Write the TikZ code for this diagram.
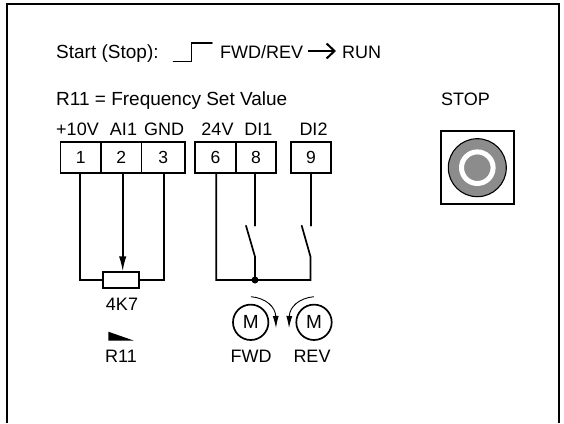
\documentclass[tikz,border=0pt]{standalone}
\usepackage{fontspec}
\setmainfont{Liberation Sans}
\usetikzlibrary{arrows.meta}
\definecolor{btn}{HTML}{8C8C8C}
\tikzset{
  wire/.style={line width=1.7pt,line cap=round,line join=miter},
  cell/.style={draw,line width=1.7pt,minimum height=31pt,inner sep=0pt,font=\fontsize{17.5}{20}\selectfont},
  lbl/.style={inner sep=0pt,font=\fontsize{18}{21}\selectfont},
  longlbl/.style={inner sep=0pt,font=\fontsize{19}{22}\selectfont},
  motor/.style={draw,circle,line width=1.7pt,minimum size=35.4pt,inner sep=0pt,font=\fontsize{19}{22}\selectfont},
  rot/.style={line width=0.9pt,-{Latex[length=12pt,width=6pt]}},
}
\begin{document}
\begin{tikzpicture}[x=1pt,y=-1pt]
\useasboundingbox (0,0) rectangle (564,423);
\draw[line width=1.7pt] (7,423) -- (7,4) -- (559,4) -- (559,423);
% header texts
\node[longlbl,anchor=base west] (t1) at (56,58) {Start (Stop):};
\draw[wire] (173.5,61.5) -- (191.5,61.5) -- (191.5,43) -- (212,43);
\node[lbl,anchor=base west] (t2) at (220,58) {FWD/REV};
\node[lbl,anchor=base west] (t3) at (342,58) {RUN};
\draw[line width=2pt,-{Straight Barb[length=8pt,width=15pt,line width=2pt]}] (t2.base east |- 0,51) ++(5,0) -- (336,51);
\node[longlbl,anchor=base west] (t4) at (56,105) {R11 = Frequency Set Value};
\node[lbl,anchor=base west] (stopl) at (441,105) {STOP};
% terminal labels
\node[lbl,anchor=base] at (77.5,135) {+10V};
\node[lbl,anchor=base] at (123.5,135) {AI1};
\node[lbl,anchor=base] at (164,135) {GND};
\node[lbl,anchor=base] at (217.5,135) {24V};
\node[lbl,anchor=base] at (258.5,135) {DI1};
\node[lbl,anchor=base] at (313.5,135) {DI2};
% terminals
\node[cell,minimum width=40.5pt] (b1) at (80.7,157.5) {1};
\node[cell,minimum width=40.8pt] (b2) at (121.2,157.5) {2};
\node[cell,minimum width=43.5pt] (b3) at (163.3,157.5) {3};
\node[cell,minimum width=41pt] (b6) at (215.5,157.5) {6};
\node[cell,minimum width=40.3pt] (b8) at (255.9,157.5) {8};
\node[cell,minimum width=39.7pt] (b9) at (311,157.5) {9};
% potentiometer
\node[draw,line width=1.7pt,minimum width=36pt,minimum height=15.7pt,inner sep=0pt] (pot) at (121.3,280) {};
\coordinate (pl) at (79.7,280);
\coordinate (pr) at (164,280);
\draw[wire] (b1.south -| pl) -- (pl) -- (pot.west);
\draw[wire] (b3.south -| pr) -- (pr) -- (pot.east);
\draw[wire,-{Latex[length=15pt,width=7.5pt]}] (b2.south -| 122.7,0) -- (pot.north -| 122.7,0);
\node[lbl,anchor=base] (v) at (122,310) {4K7};
\fill (108.3,331.7) -- (108.3,340.5) -- (133.5,340.5) -- cycle;
\node[lbl,anchor=base] (r) at (121,362) {R11};
% switches
\coordinate (j) at (255,280);
\coordinate (jl) at (216.3,280);
\coordinate (jr) at (310.5,280);
\coordinate (s1) at (255.3,225.7);
\coordinate (s2) at (311,225.7);
\draw[wire] (b6.south -| jl) -- (jl) -- (jr) -- (310.5,256.7) -- (301.7,225.7);
\draw[wire] (b8.south -| s1) -- (s1);
\draw[wire] (b9.south -| s2) -- (s2);
\draw[wire] (j) -- (255,256.7) -- (246,225.7);
\fill (j) circle (3.5);
% motors
\node[motor] (m1) at (250.7,322.3) {M};
\node[motor] (m2) at (314,322.3) {M};
\draw[rot] (251,296.7) .. controls (266,298) and (275.5,307) .. (276,328);
\draw[rot] (314,296.7) .. controls (299,298) and (289.5,307) .. (289,328);
\node[lbl,anchor=base] (f) at (251,362) {FWD};
\node[lbl,anchor=base] (rv) at (312,362) {REV};
% stop button
\draw[line width=1.7pt] (441,131) rectangle (514.3,204);
\draw[fill=btn,line width=1.1pt] (477.3,167.7) circle (29);
\draw[draw=white,line width=5pt,fill=btn] (477.3,167.7) circle (15.8);
\end{tikzpicture}
\end{document}
